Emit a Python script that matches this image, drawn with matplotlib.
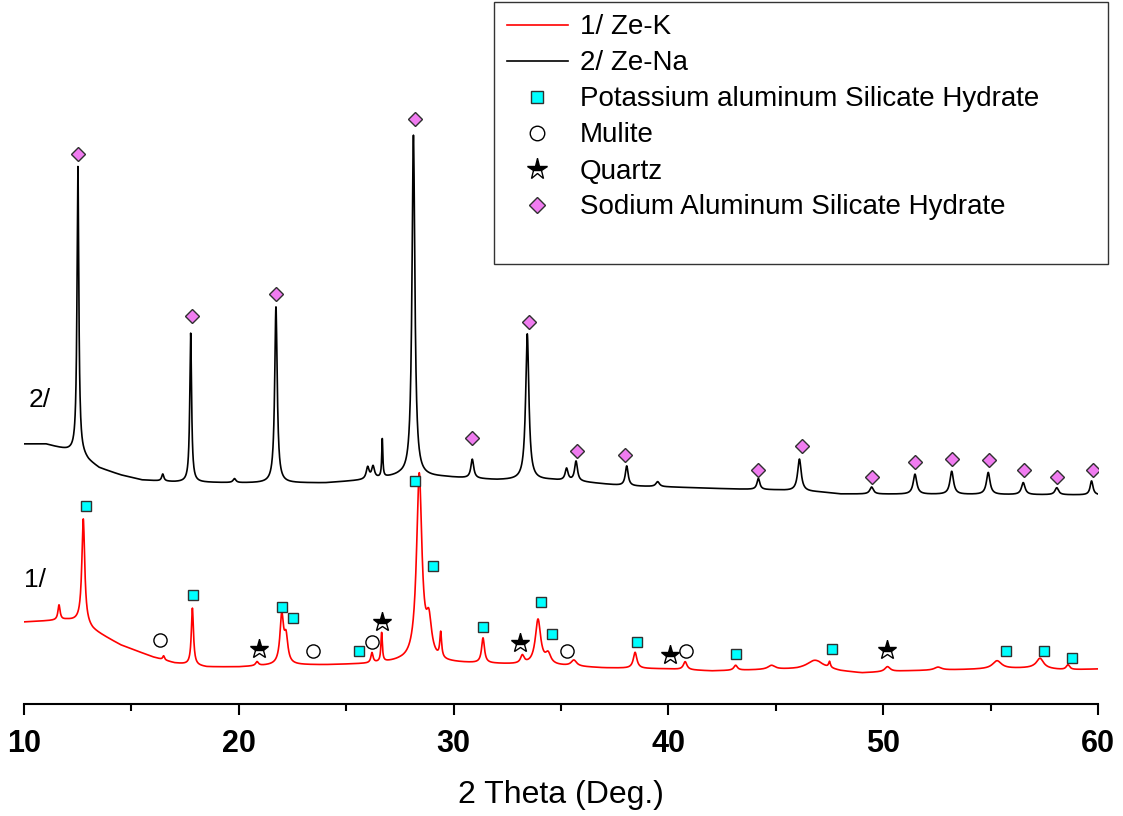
import numpy as np
import matplotlib.pyplot as plt
from matplotlib.lines import Line2D

plt.rcParams['font.family'] = ['Liberation Sans', 'DejaVu Sans']

# Baseline nodes (2 theta, intensity a.u.)
ze_k_base_x = [10, 12, 12.7, 13.2, 14.5, 16, 17, 18.5, 20, 22, 24, 26, 27.5, 30, 32, 35,
               37, 40, 42, 44, 46, 47, 48, 49, 51, 53, 55, 57, 58.5, 60]
ze_k_base_y = [86, 88, 86, 78, 63, 51, 45, 41, 41, 43, 43, 44, 46, 45, 44, 42,
               40, 39, 37, 38, 39, 41, 37, 35, 37, 38, 39, 40, 38, 39]
ze_na_base_x = [10, 11, 12, 12.6, 13, 13.5, 14.5, 15.5, 17, 20, 24, 26, 27.5, 29.5, 32,
                34.5, 36, 38, 40, 43, 45, 47, 48, 60]
ze_na_base_y = [264, 264, 258, 255, 247, 240, 233, 228, 226, 225, 225, 228, 232, 231, 228,
                228, 226, 222, 221, 219, 218, 216, 214, 213]

# Peaks: position, height above baseline, half width
ze_k_pos = [11.63, 12.76, 16.5, 17.84, 20.85, 22.0, 22.2, 26.2, 26.65, 28.4, 28.85, 29.4,
            31.37, 33.2, 33.93, 34.4, 35.6, 38.45, 40.78, 43.13, 44.8, 46.8, 47.5, 50.2,
            52.55, 55.3, 57.3, 58.6]
ze_k_height = [15, 104, 4, 57, 4, 48, 25, 10, 29, 186, 35, 25, 25, 8, 45, 10, 6, 16, 8, 5, 4,
               7, 6, 5, 3, 8, 10, 5]
ze_k_width = [0.06, 0.08, 0.05, 0.06, 0.08, 0.1, 0.1, 0.06, 0.04, 0.15, 0.15, 0.05, 0.08,
              0.1, 0.15, 0.15, 0.15, 0.1, 0.1, 0.1, 0.2, 0.4, 0.05, 0.15, 0.2, 0.25, 0.2, 0.1]

ze_na_pos = [12.51, 16.46, 17.76, 19.8, 21.73, 26.0, 26.25, 26.68, 28.13, 30.87, 33.43,
             35.26, 35.7, 38.06, 39.5, 44.19, 46.1, 49.46, 51.48, 53.19, 54.89, 56.52,
             58.08, 59.7]
ze_na_height = [286, 7, 149, 4, 176, 12, 12, 38, 341, 19, 146, 12, 20, 20, 5, 11, 32, 7, 20,
                23, 22, 12, 7, 14]
ze_na_width = [0.05, 0.06, 0.05, 0.08, 0.07, 0.08, 0.08, 0.03, 0.08, 0.08, 0.09, 0.08, 0.08,
               0.08, 0.1, 0.08, 0.1, 0.1, 0.1, 0.1, 0.1, 0.1, 0.1, 0.08]

# Phase marks
k_ash_x = [12.88, 17.86, 22.0, 22.51, 25.6, 28.2, 29.04, 31.37, 34.05, 34.57, 38.52, 43.13,
           47.6, 55.7, 57.5, 58.8]
k_ash_y = [202, 113, 101, 90, 57, 227, 142, 81, 106, 74, 66, 54, 59, 57, 57, 50]
mulite_x = [16.33, 23.45, 26.2, 35.3, 40.82]
mulite_y = [68, 57, 66, 57, 57]
quartz_x = [20.94, 26.65, 33.1, 40.07, 50.17]
quartz_y = [59, 86, 65, 53, 58]
na_ash_x = [12.51, 17.8, 21.73, 28.2, 30.87, 33.5, 35.75, 38.0, 44.19, 46.22, 49.5, 51.48,
            53.22, 54.93, 56.55, 58.1, 59.77]
na_ash_y = [554, 392, 414, 589, 270, 386, 257, 253, 238, 262, 231, 246, 249, 248, 238, 231, 238]


def pattern(x, bx, by, pos, height, width):
    y = np.interp(x, bx, by)
    for c, h, w in zip(pos, height, width):
        y = y + h / (1 + ((x - c) / w) ** 2)
    return y


theta = np.linspace(10, 60, 5001)
ze_k = pattern(theta, ze_k_base_x, ze_k_base_y, ze_k_pos, ze_k_height, ze_k_width)
ze_na = pattern(theta, ze_na_base_x, ze_na_base_y, ze_na_pos, ze_na_height, ze_na_width)

fig = plt.figure(figsize=(11.23, 8.16), dpi=100)
ax = fig.add_axes([24 / 1123, 112 / 816, 1074 / 1123, 704 / 816])

ax.plot(theta, ze_k, color='red', lw=1.2, label='1/ Ze-K')
ax.plot(theta, ze_na, color='black', lw=1.2, label='2/ Ze-Na')

ax.plot(k_ash_x, k_ash_y, ls='none', marker='s', ms=7.5, mfc='#00ffff', mec='#303030',
        mew=1.0, label='Potassium aluminum Silicate Hydrate')
ax.plot(mulite_x, mulite_y, ls='none', marker='o', ms=9.5, mfc='white', mec='black',
        mew=1.0, label='Mulite')
ax.plot(quartz_x, quartz_y, ls='none', marker='*', ms=14, fillstyle='top', mfc='black',
        mfcalt='white', mec='black', mew=1.0, label='Quartz')
ax.plot(na_ash_x, na_ash_y, ls='none', marker='D', ms=7.5, mfc='#f07cf0', mec='#303030',
        mew=1.0, label='Sodium Aluminum Silicate Hydrate')

# sample labels
ax.text(10.0, 128, '1/', fontsize=19, va='center', ha='left')
ax.text(10.23, 308, '2/', fontsize=19, va='center', ha='left')

ax.set_xlim(10, 60)
ax.set_ylim(4, 708)
ax.set_xticks([10, 20, 30, 40, 50, 60])
ax.set_xticks([15, 25, 35, 45, 55], minor=True)
ax.set_yticks([])
for s in ['top', 'right', 'left']:
    ax.spines[s].set_visible(False)
ax.spines['bottom'].set_linewidth(1.5)
ax.tick_params(axis='x', which='major', length=8, width=1.5, pad=10, labelsize=22)
ax.tick_params(axis='x', which='minor', length=5, width=1.5)
for lbl in ax.get_xticklabels():
    lbl.set_fontweight('bold')
ax.set_xlabel('2 Theta (Deg.)', fontsize=23, labelpad=15)
ax.patch.set_visible(False)

# legend with a blank last row
handles, labels = ax.get_legend_handles_labels()
handles.append(Line2D([], [], ls='none'))
labels.append(' ')
leg = fig.legend(handles, labels, loc='upper left',
                 bbox_to_anchor=(494 / 1123, 1 - 258 / 816, 614 / 1123, 256 / 816),
                 mode='expand', fontsize=20, frameon=True, fancybox=False,
                 handlelength=2.2, handletextpad=0.45, labelspacing=0.36,
                 borderpad=0.45, borderaxespad=0, markerscale=1.1)
leg.get_texts()[-1].set_fontsize(6)
leg.get_frame().set_edgecolor('black')
leg.get_frame().set_linewidth(1.0)

fig.savefig('out.png', dpi=100)
